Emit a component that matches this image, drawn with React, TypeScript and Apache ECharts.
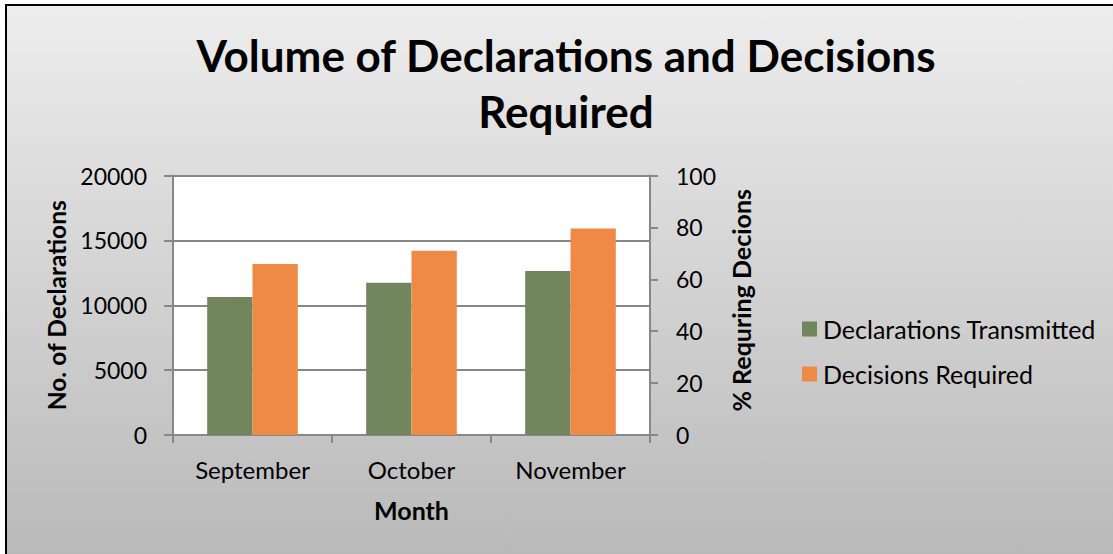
import React, { useEffect, useRef } from "react";
import * as echarts from "echarts";

const months = ["September", "October", "November"];
const declarationsTransmitted = [10640, 11740, 12640];
const decisionsRequired = [13180, 14200, 15920];
const leftTicks = [0, 5000, 10000, 15000, 20000];
const rightTicks = [0, 20, 40, 60, 80, 100];

const FONT = "Lato";
const AXIS_GRAY = "#878787";

export default function App() {
  const ref = useRef<HTMLDivElement>(null);
  useEffect(() => {
    if (!ref.current) return;
    const chart = echarts.init(ref.current, undefined, { renderer: "svg" });
    chart.setOption({
      animation: false,
      backgroundColor: "transparent",
      textStyle: { fontFamily: FONT },
      title: {
        text: "Volume of Declarations and Decisions\nRequired",
        left: 566,
        top: 27,
        padding: 0,
        textAlign: "center",
        textStyle: {
          fontFamily: FONT,
          fontWeight: "bold",
          fontSize: 44,
          lineHeight: 56,
          color: "#000",
        },
      },
      legend: {
        orient: "vertical",
        left: 802,
        top: 316.5,
        padding: 0,
        itemWidth: 15,
        itemHeight: 15,
        itemGap: 20,
        icon: "rect",
        textStyle: { fontFamily: FONT, fontSize: 25, lineHeight: 25, color: "#000", padding: [0, 0, 0, 1] },
        data: ["Declarations Transmitted", "Decisions Required"],
      },
      grid: { left: 173, right: 463, top: 175.5, bottom: 119, backgroundColor: "#fff", show: true, borderWidth: 0 },
      xAxis: {
        type: "category",
        data: months,
        name: "Month",
        nameLocation: "middle",
        nameGap: 62,
        nameTextStyle: { fontFamily: FONT, fontWeight: "bold", fontSize: 25, color: "#000" },
        axisLine: { lineStyle: { color: AXIS_GRAY, width: 2 } },
        axisTick: { show: true, length: 8, lineStyle: { color: AXIS_GRAY, width: 2 } },
        axisLabel: { fontFamily: FONT, fontSize: 24, color: "#000", margin: 22 },
      },
      yAxis: [
        {
          type: "value",
          min: 0,
          max: 20000,
          interval: 5000,
          position: "left",
          name: "No. of Declarations",
          nameLocation: "middle",
          nameRotate: 90,
          nameGap: 104,
          nameTextStyle: { fontFamily: FONT, fontWeight: "bold", fontSize: 24.5, color: "#000" },
          axisLine: { show: true, lineStyle: { color: AXIS_GRAY, width: 2 } },
          axisTick: { show: true, length: 9, lineStyle: { color: AXIS_GRAY, width: 2 } },
          splitLine: { show: true, lineStyle: { color: AXIS_GRAY, width: 2 } },
          axisLabel: {
            fontFamily: FONT,
            fontSize: 23,
            color: "#000",
            margin: 26,
            customValues: leftTicks,
            formatter: (v: number) => String(v),
          },
        },
        {
          type: "value",
          min: 0,
          max: 100,
          interval: 20,
          position: "right",
          name: "% Requring Decions",
          nameLocation: "middle",
          nameRotate: 90,
          nameGap: 78,
          nameTextStyle: { fontFamily: FONT, fontWeight: "bold", fontSize: 25, color: "#000", padding: [0, 0, 0, 10] },
          axisLine: { show: true, lineStyle: { color: AXIS_GRAY, width: 2 } },
          axisTick: { show: true, length: 8, lineStyle: { color: AXIS_GRAY, width: 2 } },
          splitLine: { show: false },
          axisLabel: {
            fontFamily: FONT,
            fontSize: 23,
            color: "#000",
            margin: 26,
            customValues: rightTicks,
            formatter: (v: number) => String(v),
          },
        },
      ],
      series: [
        {
          name: "Declarations Transmitted",
          type: "bar",
          yAxisIndex: 0,
          data: declarationsTransmitted,
          barGap: "0%",
          barCategoryGap: "43%",
          itemStyle: { color: "#71865d" },
        },
        {
          name: "Decisions Required",
          type: "bar",
          yAxisIndex: 0,
          data: decisionsRequired,
          barGap: "0%",
          barCategoryGap: "43%",
          itemStyle: { color: "#ee8a45" },
        },
      ],
    });
    return () => chart.dispose();
  }, []);

  return (
    <div style={{ position: "fixed", left: 0, top: 0, width: 1113, height: 554, background: "#fff" }}>
      <div
        style={{
          position: "absolute",
          left: 5,
          top: 4,
          width: 1108,
          height: 550,
          boxSizing: "border-box",
          borderTop: "2px solid #000",
          borderLeft: "2px solid #000",
          background: "linear-gradient(to bottom, #ededed 0%, #b9b9b9 100%)",
        }}
      />
      <div ref={ref} style={{ position: "absolute", left: 0, top: 0, width: 1113, height: 554 }} />
    </div>
  );
}
